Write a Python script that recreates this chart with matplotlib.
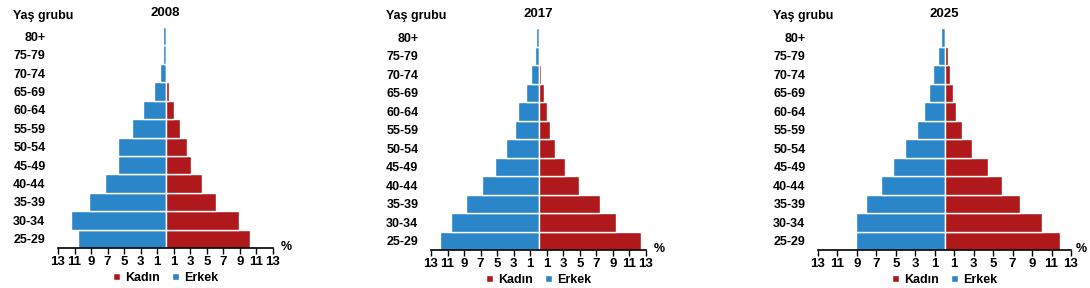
import matplotlib
matplotlib.use("Agg")
import matplotlib.pyplot as plt
import numpy as np

plt.rcParams['font.family'] = ['Liberation Sans', 'DejaVu Sans']
plt.rcParams['font.weight'] = 'bold'

age_groups = ["25-29", "30-34", "35-39", "40-44", "45-49", "50-54",
              "55-59", "60-64", "65-69", "70-74", "75-79", "80+"]
years = ["2008", "2017", "2025"]

# percentages, ordered 25-29 ... 80+
erkek_2008 = [10.6, 11.45, 9.27, 7.34, 5.73, 5.73, 4.07, 2.74, 1.41, 0.65, 0.32, 0.32]
kadin_2008 = [10.2, 8.87, 6.09, 4.4, 3.06, 2.66, 1.73, 1.0, 0.4, 0.12, 0.05, 0.12]

erkek_2017 = [11.91, 10.58, 8.76, 6.78, 5.25, 3.92, 2.83, 2.46, 1.49, 0.89, 0.4, 0.28]
kadin_2017 = [12.43, 9.41, 7.43, 4.93, 3.23, 2.02, 1.41, 1.0, 0.69, 0.32, 0.04, 0.04]

erkek_2025 = [9.11, 9.11, 8.08, 6.53, 5.29, 4.05, 2.82, 2.1, 1.55, 1.17, 0.65, 0.34]
kadin_2025 = [11.82, 10.07, 7.8, 5.95, 4.5, 2.85, 1.82, 1.2, 0.89, 0.58, 0.38, 0.1]

erkek = [erkek_2008, erkek_2017, erkek_2025]
kadin = [kadin_2008, kadin_2017, kadin_2025]

tick_vals = [-13, -11, -9, -7, -5, -3, -1, 1, 3, 5, 7, 9, 11, 13]

blue = "#2A86C8"
red = "#B0191C"

W, H = 1090, 288
fig = plt.figure(figsize=(W / 100, H / 100), dpi=100)

# axes boxes in pixels: left, top, right, bottom
boxes = [(58, 27, 273, 248), (431, 28, 646, 250), (818, 28, 1071, 250)]
pct_gap = [8, 8, 5]

for i in range(3):
    l, t, r, b = boxes[i]
    ax = fig.add_axes([l / W, 1 - b / H, (r - l) / W, (b - t) / H])
    y = np.arange(len(age_groups))
    ax.barh(y, -np.array(erkek[i]), height=1.0, color=blue,
            edgecolor="white", linewidth=1.0, label="Erkek")
    ax.barh(y, kadin[i], height=1.0, color=red,
            edgecolor="white", linewidth=1.0, label="Kadın")
    ax.set_xlim(-13, 13)
    ax.set_ylim(-0.5, 11.5)
    ax.set_yticks(y)
    ax.set_yticklabels(age_groups, fontsize=9, fontweight="bold")
    ax.tick_params(axis="y", length=0, pad=9)
    ax.set_xticks(tick_vals)
    ax.set_xticklabels([str(abs(v)) for v in tick_vals], fontsize=9.5, fontweight="bold")
    ax.tick_params(axis="x", length=4, width=1, direction="out", pad=2)
    for s in ["top", "right", "left"]:
        ax.spines[s].set_visible(False)
    ax.spines["bottom"].set_linewidth(1.2)

    ax.set_title(years[i], fontsize=9.5, fontweight="bold", pad=8)
    fig.text((r + pct_gap[i]) / W, 1 - (b - 1) / H, "%", fontsize=9,
             fontweight="bold", ha="left", va="center")
    fig.text((l - 45) / W, 1 - 16 / H, "Yaş grubu", fontsize=9,
             fontweight="bold", ha="left", va="center")

    handles, labels = ax.get_legend_handles_labels()
    ax.legend(handles[::-1], labels[::-1], loc="center",
              bbox_to_anchor=(0.5, -30 / (b - t)), ncol=2, frameon=False,
              handlelength=0.55, handleheight=0.55,
              handletextpad=0.4, columnspacing=1.0, borderaxespad=0,
              borderpad=0, prop={"weight": "bold", "size": 9})

fig.savefig("out.png", dpi=100)
